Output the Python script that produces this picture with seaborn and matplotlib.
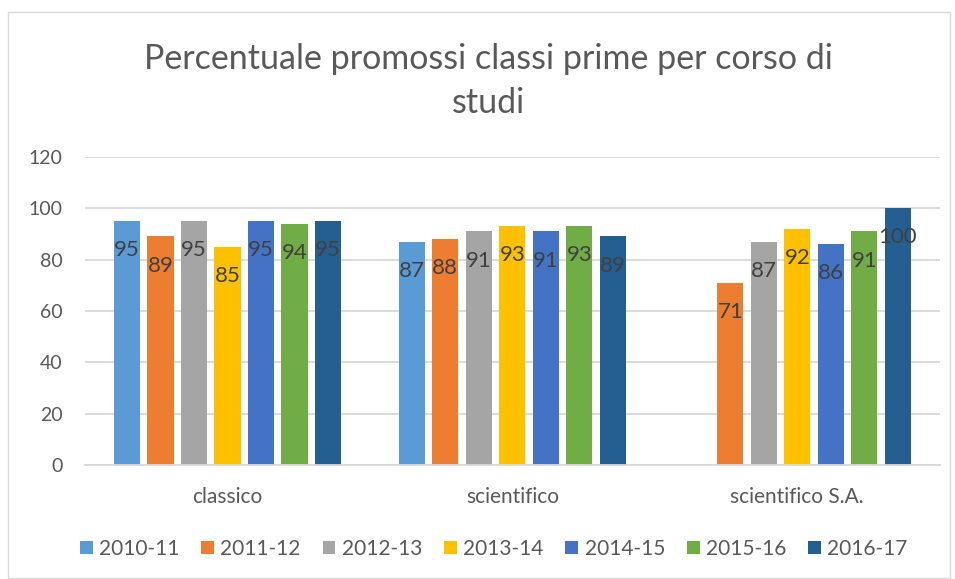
import numpy as np
import pandas as pd
import matplotlib.pyplot as plt
import seaborn as sns
from matplotlib.patches import Rectangle

# data
corsi = ['classico', 'scientifico', 'scientifico S.A.']
anni = ['2010-11', '2011-12', '2012-13', '2013-14', '2014-15', '2015-16', '2016-17']
v_2010_11 = [95, 87, np.nan]
v_2011_12 = [89, 88, 71]
v_2012_13 = [95, 91, 87]
v_2013_14 = [85, 93, 92]
v_2014_15 = [95, 91, 86]
v_2015_16 = [94, 93, 91]
v_2016_17 = [95, 89, 100]
colori = ['#5B9BD5', '#ED7D31', '#A5A5A5', '#FFC000', '#4472C4', '#70AD47', '#255E91']

serie = [v_2010_11, v_2011_12, v_2012_13, v_2013_14, v_2014_15, v_2015_16, v_2016_17]
rows = []
for anno, vals in zip(anni, serie):
    for corso, v in zip(corsi, vals):
        rows.append({'corso': corso, 'anno': anno, 'valore': v})
df = pd.DataFrame(rows)

sns.set_style('white')
plt.rcParams['font.family'] = ['Lato', 'DejaVu Sans']
grigio = '#595959'

fig = plt.figure(figsize=(9.55, 5.79), dpi=100)
ax = fig.add_axes([0.089, 0.197, 0.895, 0.532])

sns.barplot(data=df, x='corso', y='valore', hue='anno', order=corsi, hue_order=anni,
            palette=colori, saturation=1, width=0.823, gap=0.22, errorbar=None,
            linewidth=0, ax=ax)

# data labels inside the top of each bar
for cont in ax.containers:
    for bar in cont:
        h = bar.get_height()
        if np.isnan(h):
            continue
        ax.annotate('%d' % h, (bar.get_x() + bar.get_width() / 2, h),
                    xytext=(0, -21), textcoords='offset points',
                    ha='center', va='center', fontsize=16, color='#404040')

ax.set_xlim(-0.5, 2.5)
ax.set_ylim(0, 120)
ax.set_yticks(range(0, 121, 20))
ax.yaxis.grid(True, color='#D9D9D9', lw=1.3)
ax.set_axisbelow(True)
for s in ['top', 'right', 'left']:
    ax.spines[s].set_visible(False)
ax.spines['bottom'].set_color('#D9D9D9')
ax.spines['bottom'].set_linewidth(1.3)
ax.tick_params(axis='both', length=0, labelcolor=grigio)
ax.tick_params(axis='x', pad=16, labelsize=15)
ax.tick_params(axis='y', pad=16, labelsize=14)
ax.set_xlabel('')
ax.set_ylabel('')

ax.legend(loc='center', bbox_to_anchor=(0.517, 0.052), bbox_transform=fig.transFigure,
          ncol=7, frameon=False, fontsize=15, labelcolor=grigio,
          handlelength=0.62, handleheight=0.62, handletextpad=0.3, columnspacing=1.05)

fig.text(0.511, 0.86, 'Percentuale promossi classi prime per corso di\nstudi',
         ha='center', va='center', fontsize=24.5, color=grigio, linespacing=1.45)

fig.patches.append(Rectangle((8 / 955, 0.002), 942 / 955, 1 - 12 / 579 - 0.002,
                             transform=fig.transFigure, fill=False,
                             edgecolor='#D9D9D9', lw=1))

fig.savefig('out.png', dpi=100)
